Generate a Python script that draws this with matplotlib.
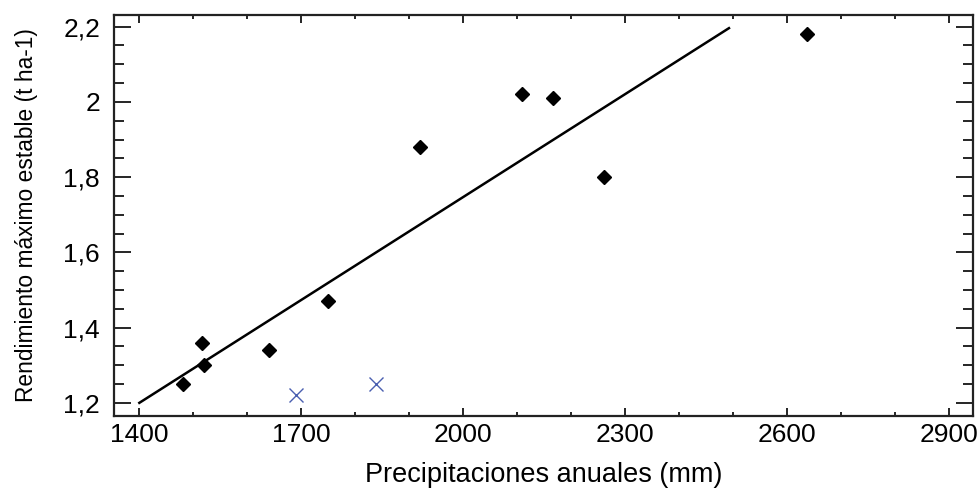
import numpy as np
import matplotlib
matplotlib.use("Agg")
import matplotlib.pyplot as plt
from matplotlib.ticker import MultipleLocator, FuncFormatter

plt.rcParams['font.family'] = ['Liberation Sans', 'DejaVu Sans']

# Datos
precip = [1481, 1516, 1520, 1641, 1749, 1920, 2109, 2166, 2261, 2637]
rend = [1.25, 1.36, 1.30, 1.34, 1.47, 1.88, 2.02, 2.01, 1.80, 2.18]

# puntos excluidos
precip_out = [1690, 1839]
rend_out = [1.22, 1.25]

# recta de ajuste (extremos)
linea_x = [1400, 2492]
linea_y = [1.20, 2.196]

xticks = [1400, 1700, 2000, 2300, 2600, 2900]

fig = plt.figure(figsize=(9.79, 4.91), dpi=100)
ax = fig.add_axes([0.1164, 0.1527, 0.8775, 0.8168])

ax.plot(linea_x, linea_y, color='black', lw=1.8)
ax.plot(precip, rend, 'D', color='black', ms=7.5, mec='black')
ax.plot(precip_out, rend_out, 'x', color='#4a5fb0', ms=9.5, mew=1.0)

ax.set_xlim(1353, 2944)
ax.set_ylim(1.165, 2.231)

ax.set_xticks(xticks)
ax.xaxis.set_minor_locator(MultipleLocator(100))
ax.yaxis.set_major_locator(MultipleLocator(0.2))
ax.yaxis.set_minor_locator(MultipleLocator(0.05))
ax.yaxis.set_major_formatter(FuncFormatter(lambda v, p: ('%g' % round(v, 2)).replace('.', ',')))

ax.tick_params(axis='both', which='both', direction='in', top=True, right=True,
               color='black', labelsize=19)
ax.tick_params(axis='x', which='major', length=5.5, width=1.2, pad=5)
ax.tick_params(axis='x', which='minor', length=3, width=1.2)
ax.tick_params(axis='y', which='major', length=12.5, width=1.2, pad=10)
ax.tick_params(axis='y', which='minor', length=7, width=1.2)

for s in ax.spines.values():
    s.set_linewidth(1.6)
    s.set_color('#222222')

ax.set_ylabel('Rendimiento máximo estable (t ha-1)', fontsize=16.4)
ax.yaxis.set_label_coords(-0.088, 0.5)
ax.set_xlabel('Precipitaciones anuales (mm)', fontsize=19.5)
ax.xaxis.set_label_coords(0.5, -0.115)

fig.savefig('out.png', dpi=100)
